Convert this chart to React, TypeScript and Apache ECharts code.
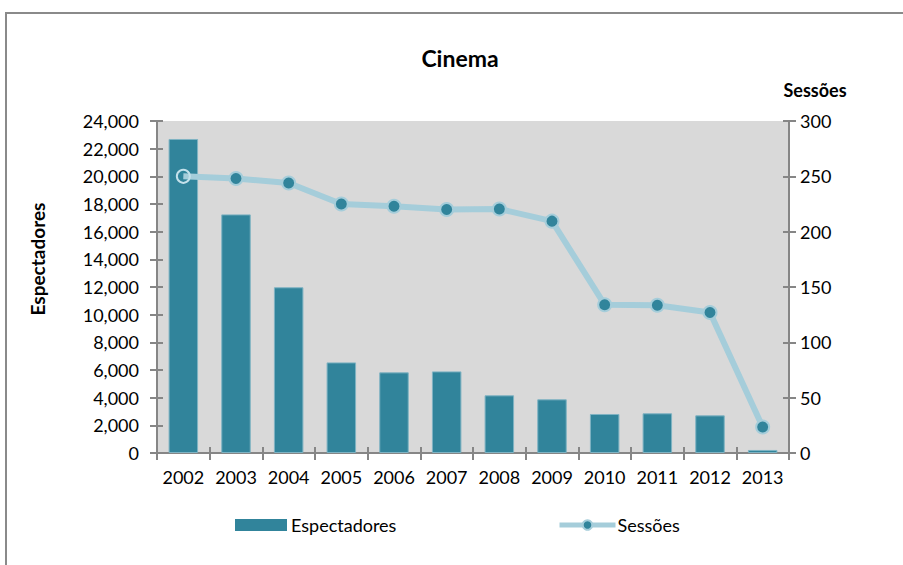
import React, { useEffect, useRef } from "react";
import * as echarts from "echarts";

const years = ["2002", "2003", "2004", "2005", "2006", "2007", "2008", "2009", "2010", "2011", "2012", "2013"];
const espectadores = [22700, 17250, 11980, 6550, 5830, 5900, 4170, 3880, 2820, 2870, 2720, 220];
const sessoes = [250, 248, 244, 225, 223, 220, 220.5, 209.5, 134, 133.5, 127, 23.5];

const FONT = "Lato, 'Open Sans', sans-serif";
const AXIS = "#868686";
const BAR = "#31849B";
const LINE = "#A5CDDA";
const FS = 18;

export default function App() {
  const ref = useRef<HTMLDivElement>(null);
  useEffect(() => {
    if (!ref.current) return;
    const chart = echarts.init(ref.current, undefined, { renderer: "svg" });
    const lineData = sessoes.map((v, i) =>
      i === 0
        ? { value: v, itemStyle: { color: "rgba(0,0,0,0)", borderColor: "#C4E1EB", borderWidth: 2 } }
        : v
    );
    const axisLine = { show: true, lineStyle: { color: AXIS, width: 2 } };
    chart.setOption({
      animation: false,
      textStyle: { fontFamily: FONT },
      title: {
        text: "Cinema",
        left: 455,
        top: 41,
        textAlign: "center",
        textStyle: { fontFamily: FONT, fontSize: 23, fontWeight: "bold", color: "#000" },
      },
      graphic: [
        {
          type: "rect",
          shape: { x: 6, y: 13, width: 1000, height: 700 },
          style: { fill: "none", stroke: "#8a8a8a", lineWidth: 2 },
          silent: true,
        },
        {
          type: "text",
          x: 37,
          y: 259,
          rotation: Math.PI / 2,
          style: {
            text: "Espectadores",
            fontFamily: FONT,
            fontSize: 19,
            fontWeight: "bold",
            fill: "#000",
            align: "center",
            verticalAlign: "middle",
          },
        },
      ],
      grid: {
        left: 157,
        right: 114,
        top: 121,
        bottom: 112,
        show: true,
        backgroundColor: "#D9D9D9",
        borderWidth: 0,
      },
      legend: [
        {
          data: [{ name: "Espectadores", icon: "rect", itemStyle: { borderWidth: 0 } }],
          left: 235,
          top: 516,
          padding: 0,
          itemWidth: 52,
          itemHeight: 12,
          itemGap: 5,
          textStyle: { fontFamily: FONT, fontSize: FS, color: "#000", padding: [0, 0, 0, -1] },
        },
        {
          data: ["Sessões"],
          left: 557,
          top: 516,
          padding: 0,
          itemWidth: 56,
          itemHeight: 12,
          lineStyle: { width: 5, color: LINE },
          textStyle: { fontFamily: FONT, fontSize: FS, color: "#000", padding: [0, 0, 0, -3] },
        },
      ],
      xAxis: [
        {
          type: "category",
          data: years,
          boundaryGap: true,
          axisLine,
          axisTick: { show: true, length: 7, lineStyle: { color: AXIS, width: 2 } },
          axisLabel: { fontFamily: FONT, fontSize: FS, color: "#000", margin: 15, interval: 0 },
        },
        {
          type: "category",
          data: years,
          position: "bottom",
          boundaryGap: true,
          axisLine: { show: false },
          axisTick: { show: true, inside: true, length: 6, lineStyle: { color: AXIS, width: 2 } },
          axisLabel: { show: false },
        },
      ],
      yAxis: [
        {
          type: "value",
          min: 0,
          max: 24000,
          interval: 2000,
          position: "left",
          axisLine,
          axisTick: { show: true, length: 7, lineStyle: { color: AXIS, width: 2 } },
          splitLine: { show: false },
          axisLabel: {
            fontFamily: FONT,
            fontSize: FS,
            color: "#000",
            margin: 18,
            formatter: (v: number) => v.toLocaleString("en-US"),
          },
        },
        {
          type: "value",
          min: 0,
          max: 300,
          interval: 50,
          position: "right",
          name: "Sessões",
          nameLocation: "end",
          nameGap: 22,
          nameTextStyle: { fontFamily: FONT, fontSize: FS, fontWeight: "bold", color: "#000", padding: [0, 0, 0, 52] },
          axisLine,
          axisTick: { show: true, length: 7, lineStyle: { color: AXIS, width: 2 } },
          splitLine: { show: false },
          axisLabel: { fontFamily: FONT, fontSize: FS, color: "#000", margin: 11 },
        },
        {
          type: "value",
          min: 0,
          max: 24000,
          interval: 2000,
          position: "left",
          axisLine: { show: false },
          axisTick: { show: true, inside: true, length: 6, lineStyle: { color: AXIS, width: 2 } },
          splitLine: { show: false },
          axisLabel: { show: false },
        },
        {
          type: "value",
          min: 0,
          max: 300,
          interval: 50,
          position: "right",
          axisLine: { show: false },
          axisTick: { show: true, inside: true, length: 6, lineStyle: { color: AXIS, width: 2 } },
          splitLine: { show: false },
          axisLabel: { show: false },
        },
      ],
      series: [
        {
          name: "Espectadores",
          type: "bar",
          data: espectadores,
          xAxisIndex: 0,
          yAxisIndex: 0,
          barWidth: "56%",
          itemStyle: { color: BAR, borderColor: "#7FB3C3", borderWidth: 1 },
        },
        {
          name: "Sessões",
          type: "line",
          data: lineData,
          xAxisIndex: 0,
          yAxisIndex: 1,
          symbol: "circle",
          symbolSize: 13,
          lineStyle: { color: LINE, width: 6 },
          itemStyle: { color: BAR, borderColor: LINE, borderWidth: 2 },
        },
      ],
    });
    return () => chart.dispose();
  }, []);
  return (
    <div
      ref={ref}
      style={{ position: "fixed", left: 0, top: 0, width: 903, height: 565, background: "#fff" }}
    />
  );
}
